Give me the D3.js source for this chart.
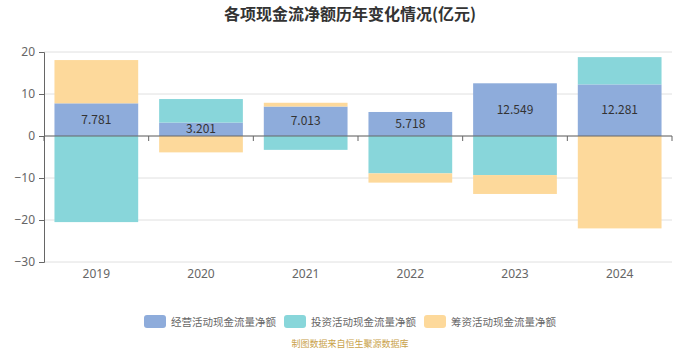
<!DOCTYPE html>
<html>
<head>
<meta charset="utf-8">
<script src="https://cdn.jsdelivr.net/npm/d3@7"></script>
<style>
  body { margin: 0; background: #fff; }
  svg { font-family: "Noto Sans CJK SC", "Noto Sans", sans-serif; }
</style>
</head>
<body>
<svg id="chart" width="700" height="350"></svg>
<script>
var years = ["2019", "2020", "2021", "2022", "2023", "2024"];
var series_names = ["经营活动现金流量净额", "投资活动现金流量净额", "筹资活动现金流量净额"];
var operating = [7.781, 3.201, 7.013, 5.718, 12.549, 12.281];
var investing = [-20.5, 5.6, -3.3, -8.9, -9.3, 6.5];
var financing = [10.3, -3.9, 0.9, -2.2, -4.5, -22.0];
var y_ticks = [20, 10, 0, -10, -20, -30];
var colors = ["#8eacdb", "#88d6da", "#fdd99b"];

var svg = d3.select("#chart");
var plot = {left: 44, right: 672, top: 52, bottom: 262};

var x = d3.scaleBand().domain(years).range([plot.left, plot.right]).paddingInner(0.2).paddingOuter(0.1);
var y = d3.scaleLinear().domain([-30, 20]).range([plot.bottom, plot.top]);

// title
svg.append("text")
    .attr("x", 350).attr("y", 20)
    .attr("text-anchor", "middle")
    .attr("font-size", "16px").attr("font-weight", "bold")
    .attr("fill", "#333")
    .text("各项现金流净额历年变化情况(亿元)");

// grid lines
svg.append("g").selectAll("line")
    .data(y_ticks)
    .enter()
    .append("line")
        .attr("x1", plot.left).attr("x2", plot.right)
        .attr("y1", function(d) { return y(d); })
        .attr("y2", function(d) { return y(d); })
        .attr("stroke", "#e0e0e0");

// stacking, positives and negatives separately
var all_series = [operating, investing, financing];
var rects = [];
for (var i = 0; i < years.length; i++) {
    var pos = 0, neg = 0;
    for (var s = 0; s < all_series.length; s++) {
        var v = all_series[s][i];
        var y0, y1;
        if (v >= 0) { y0 = pos; y1 = pos + v; pos = y1; }
        else { y0 = neg; y1 = neg + v; neg = y1; }
        rects.push({year: years[i], s: s, y0: y0, y1: y1, v: v});
    }
}

svg.append("g").selectAll("rect")
    .data(rects)
    .enter()
    .append("rect")
        .attr("x", function(d) { return x(d.year); })
        .attr("width", x.bandwidth())
        .attr("y", function(d) { return y(Math.max(d.y0, d.y1)); })
        .attr("height", function(d) { return Math.abs(y(d.y0) - y(d.y1)); })
        .attr("fill", function(d) { return colors[d.s]; });

// value labels on operating bars
svg.append("g").selectAll("text")
    .data(rects.filter(function(d) { return d.s == 0; }))
    .enter()
    .append("text")
        .attr("x", function(d) { return x(d.year) + x.bandwidth() / 2; })
        .attr("y", function(d) { return y((d.y0 + d.y1) / 2) + 4; })
        .attr("text-anchor", "middle")
        .attr("font-size", "12px")
        .attr("fill", "#333")
        .text(function(d) { return d.v.toFixed(3); });

// y axis
var yAxis = svg.append("g")
    .attr("transform", "translate(" + plot.left + ",0)")
    .call(d3.axisLeft(y).tickValues(y_ticks).tickSize(5).tickPadding(4));
yAxis.selectAll("text").attr("font-size", "12px").attr("fill", "#666")
    .style("font-family", "\"Noto Sans\", sans-serif");
yAxis.selectAll("line").attr("stroke", "#666");
yAxis.select(".domain").attr("stroke", "#666");

// zero axis with ticks between categories
var zero = y(0);
svg.append("line")
    .attr("x1", plot.left).attr("x2", plot.right)
    .attr("y1", zero).attr("y2", zero)
    .attr("stroke", "#666");
var step = (plot.right - plot.left) / years.length;
svg.append("g").selectAll("line")
    .data(d3.range(years.length + 1))
    .enter()
    .append("line")
        .attr("x1", function(d) { return plot.left + d * step; })
        .attr("x2", function(d) { return plot.left + d * step; })
        .attr("y1", zero).attr("y2", zero + 5)
        .attr("stroke", "#666");

// x labels at bottom
svg.append("g").selectAll("text")
    .data(years)
    .enter()
    .append("text")
        .attr("x", function(d) { return x(d) + x.bandwidth() / 2; })
        .attr("y", 278)
        .attr("text-anchor", "middle")
        .attr("font-size", "12px")
        .attr("fill", "#666")
        .style("font-family", "\"Noto Sans\", sans-serif")
        .text(function(d) { return d; });

// legend
var legend_x = [144, 284, 424];
var legend = svg.append("g").selectAll("g")
    .data(series_names)
    .enter()
    .append("g")
        .attr("transform", function(d, i) { return "translate(" + legend_x[i] + ",315)"; });
legend.append("rect")
    .attr("width", 22).attr("height", 13)
    .attr("rx", 3)
    .attr("fill", function(d, i) { return colors[i]; });
legend.append("text")
    .attr("x", 27).attr("y", 11)
    .attr("font-size", "10.5px")
    .attr("fill", "#666")
    .text(function(d) { return d; });

// footer
svg.append("text")
    .attr("x", 350).attr("y", 347)
    .attr("text-anchor", "middle")
    .attr("font-size", "9px")
    .attr("fill", "#c9a24a")
    .text("制图数据来自恒生聚源数据库");
</script>
</body>
</html>
